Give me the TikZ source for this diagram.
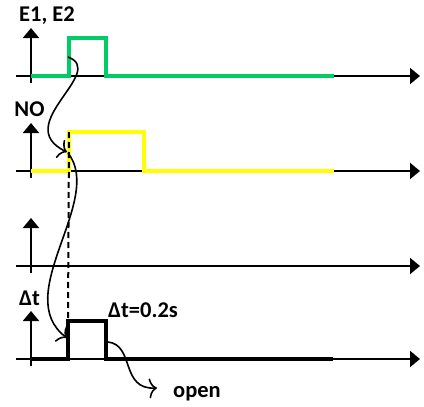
\documentclass[tikz,border=0pt]{standalone}
\usepackage{fontspec}
\setmainfont{Carlito}
\usetikzlibrary{arrows.meta,calc}
\definecolor{sigGreen}{RGB}{0,204,102}
\definecolor{sigYellow}{RGB}{255,255,0}
\tikzstyle{axis}=[line width=2pt,-{Triangle[length=10pt,width=16pt]}]
\tikzstyle{sig}=[line width=4pt, line join=miter]
\tikzstyle{cause}=[line width=1.6pt,-{To[length=8pt,width=20pt]}]
\tikzstyle{lbl}=[font=\fontsize{22.5}{26}\selectfont\bfseries, inner sep=0pt]

\begin{document}
\begin{tikzpicture}[x=1pt,y=-1pt]
    \useasboundingbox (0,0) rectangle (424,407);
    % time axes and level axes
    \foreach \row/\y in {e/76,n/171,x/266,d/359} {
        \coordinate (\row left) at (16,\y);
        \coordinate (\row right) at (420,\y);
        \coordinate (\row foot) at (31,\y+7);
        \coordinate (\row top) at (31,\y-48);
        \draw[axis] (\row left) -- (\row right);
        \draw[axis] (\row foot) -- (\row top);
    }
    % signals
    \coordinate (eup) at (69,38);
    \coordinate (nup) at (69,132);
    \coordinate (dup) at (68,321);
    \draw[sig,sigGreen] (31,76) -| (eup) -| (106,76) -- (334,76);
    \draw[sig,sigYellow] (31,171) -| (nup) -| (144,171) -- (334,171);
    \draw[sig,black] (31,359) -| (dup) -| (106,359) -- (333,359);
    \draw[line width=2pt, dash pattern=on 6pt off 4pt] (nup) -- (dup);
    % labels
    \node[lbl, anchor=base] (e12) at (47,21) {E1, E2};
    \node[lbl, anchor=base] (no) at (29.5,116) {NO};
    \node[lbl, anchor=base] (dt) at (29.5,305) {Δt};
    \node[lbl, anchor=base] (dtval) at (143,317) {Δt=0.2s};
    \node[lbl, anchor=base west] (open) at (173,397) {open};
    % cause and effect
    \coordinate (s1) at (68,57);
    \coordinate (t1) at (67,152);
    \coordinate (s2) at (68,153);
    \coordinate (t2) at (67,338);
    \coordinate (s3) at (108,342);
    \coordinate (t3) at (157,388);
    \draw[cause] (s1) .. controls (108,72) and (10,125) .. (t1);
    \draw[cause] (s2) .. controls (105,200) and (10,295) .. (t2);
    \draw[cause] (s3) .. controls (135,345) and (120,390) .. (t3);
\end{tikzpicture}
\end{document}
